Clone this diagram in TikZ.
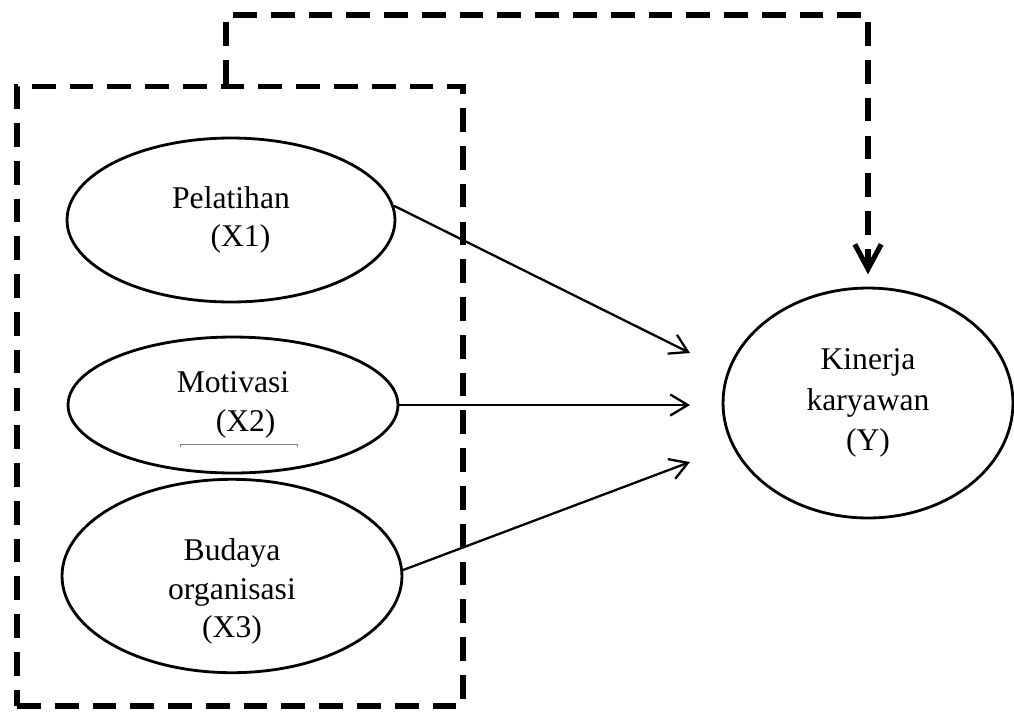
\documentclass[tikz,border=0pt]{standalone}
\usepackage{fontspec}
\setmainfont{Liberation Serif}
\usetikzlibrary{shapes,arrows.meta,positioning,calc}

\begin{document}
\begin{tikzpicture}[x=0.02cm,y=-0.02cm,
    var/.style={draw, ellipse, line width=1.6pt, inner sep=0pt, align=center, font=\fontsize{18}{22}\selectfont},
    path/.style={line width=1.3pt, -{Straight Barb[length=10pt,width=12pt]}},
    grpline/.style={line width=2.9pt, dash pattern=on 13.5pt off 8pt}]
    \useasboundingbox (0,0) rectangle (1014,711);

    % Group of independent variables
    \node[draw, grpline, minimum width=8.92cm, minimum height=12.4cm, inner sep=0pt] (grp) at (240,396) {};

    % Variables
    \node[var, minimum width=6.56cm, minimum height=3.28cm] (x1) at (231,220) {Pelatihan\\\hspace*{0.6em}(X1)};
    \node[var, minimum width=6.6cm, minimum height=2.72cm] (x2) at (233,405) {Motivasi\\\hspace*{0.8em}(X2)};
    \node[var, minimum width=6.8cm, minimum height=3.76cm] (x3) at (232,576) {\\[8pt]Budaya\\organisasi\\(X3)};
    \node[var, minimum width=5.8cm, minimum height=4.6cm] (y) at (868,403) {Kinerja\\[1pt]karyawan\\[1pt](Y)};

    % Paths
    \coordinate (ya) at (690,353);
    \coordinate (yb) at (690,405);
    \coordinate (yc) at (690,462);
    \draw[path] (x1.5) -- (ya);
    \draw[path] (x2.east) -- (yb);
    \draw[path] (x3.2) -- (yc);

    % Simultaneous effect
    \coordinate (top) at (226,15);
    \draw[grpline, -{Straight Barb[length=14pt,width=15pt]}, shorten >=7pt] (grp.north -| top) -- (top) -| (y.north);

    % stray rule under X2
    \draw[gray, line width=0.4pt] (180,447) -- (180,444) -- (297,444) -- (297,447);
\end{tikzpicture}
\end{document}
